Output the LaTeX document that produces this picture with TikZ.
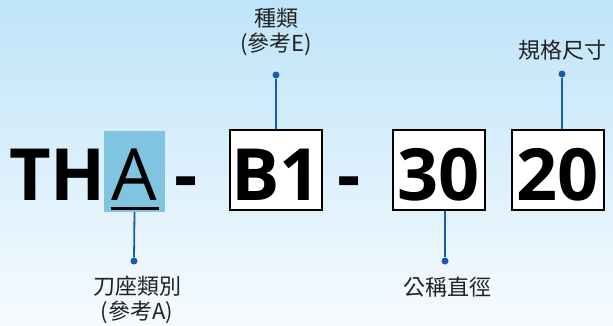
\documentclass[tikz,border=0pt]{standalone}
\usepackage{fontspec}
\setmainfont{Open Sans}
\newfontfamily\cjk{Noto Sans CJK TC}
\usepackage{xcolor}
\usetikzlibrary{positioning, calc}

\definecolor{bgtop}{RGB}{191,228,249}
\definecolor{bgbot}{RGB}{246,251,254}
\definecolor{hlblue}{RGB}{128,196,226}
\definecolor{leadblue}{RGB}{24,92,172}
\definecolor{lbltext}{RGB}{34,34,34}

\begin{document}
\begin{tikzpicture}[
    x=1pt, y=-1pt,
    code/.style={font=\fontsize{72}{72}\selectfont\bfseries, inner sep=0pt, anchor=base},
    box/.style={code, draw, fill=white, line width=2pt, minimum width=92pt, text height=70pt, text depth=10pt},
    hl/.style={inner sep=0pt, anchor=base, fill=hlblue, minimum width=61pt, text height=69pt, text depth=12pt, font=\fontsize{72}{72}\selectfont},
    lbl/.style={align=center, text=lbltext, font=\cjk\fontsize{22}{25}\selectfont},
    lead/.style={draw=leadblue, line width=1.8pt},
    pindot/.style={circle, fill=leadblue, inner sep=0pt, minimum size=7pt},
]

% Background
\fill[top color=bgtop, bottom color=bgbot] (0,0) rectangle (613,325);
\useasboundingbox (0,0) rectangle (613,325);

% Code parts
\node[code, anchor=base west] (th) at (9,200) {TH};
\node[hl] (partA) at (134.5,200) {A};
\draw[line width=3pt] ($(partA.base)+(-24,8)$) -- ($(partA.base)+(24,8)$);
\node[code] (dash1) at (186,200) {-};
\node[box] (partB) at (276,200) {B1};
\node[code] (dash2) at (349,200) {-};
\node[box] (part30) at (438.5,200) {30};
\node[box] (part20) at (557.5,200) {20};

% Lead dots
\node[pindot] (dotA) at (134,261) {};
\node[pindot] (dotB) at (276,75) {};
\node[pindot] (dot30) at (445,261) {};
\node[pindot] (dot20) at (562,74) {};

% Leads
\draw[lead] (partA.south) -- (dotA);
\draw[lead] (dotB) -- (partB.north);
\draw[lead] (dot30 |- part30.south) -- (dot30);
\draw[lead] (dot20) -- (dot20 |- part20.north);

% Labels
\node[lbl] (lblA) at (137,300) {刀座類別\\(參考A)};
\node[lbl] (lblB) at (276,32) {種類\\(參考E)};
\node[lbl] (lbl30) at (447,287) {公稱直徑};
\node[lbl] (lbl20) at (562,50) {規格尺寸};

\end{tikzpicture}
\end{document}
